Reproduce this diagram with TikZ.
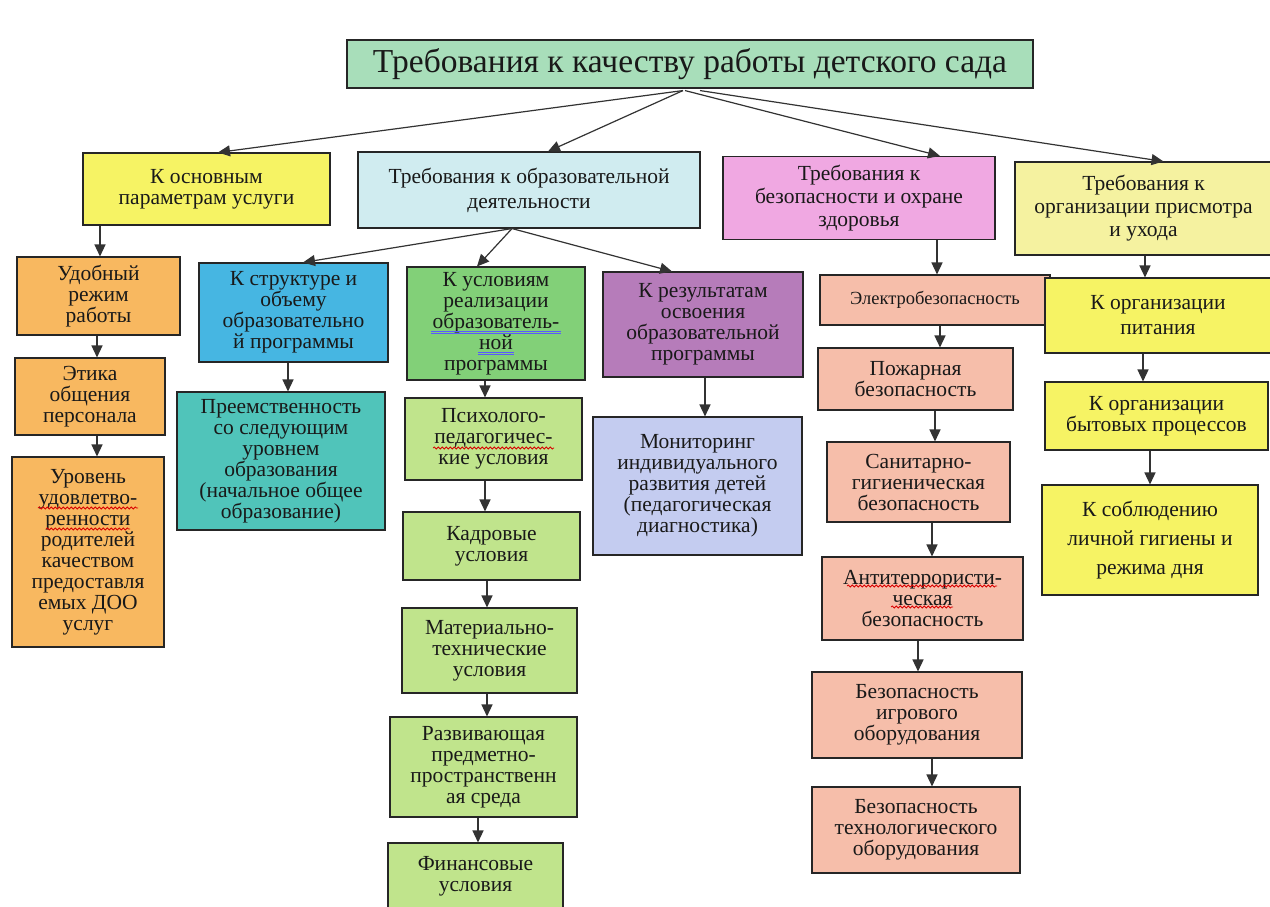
\documentclass[tikz,border=0pt]{standalone}
\usepackage{fontspec}
\setmainfont{Liberation Serif}
\usetikzlibrary{arrows.meta,decorations.pathmorphing}
\definecolor{ctitle}{RGB}{168,222,186}
\definecolor{cyel}{RGB}{246,243,100}
\definecolor{ccyan}{RGB}{208,236,240}
\definecolor{cpink}{RGB}{240,168,226}
\definecolor{cpyel}{RGB}{245,242,160}
\definecolor{corange}{RGB}{248,184,96}
\definecolor{cblue}{RGB}{70,182,226}
\definecolor{cteal}{RGB}{80,196,186}
\definecolor{cgreen}{RGB}{130,208,120}
\definecolor{clgreen}{RGB}{192,228,140}
\definecolor{cpurple}{RGB}{182,124,186}
\definecolor{clav}{RGB}{196,204,240}
\definecolor{csalmon}{RGB}{246,190,170}
\newcommand\varrow[3]{\draw[arr] (#1.south -| #3,0) -- (#2.north -| #3,0);}
\begin{document}
\begin{tikzpicture}[x=1pt,y=-1pt,
  box/.style={draw=black!85, line width=1.1pt, align=center, inner sep=2pt,
     font=\fontsize{21.5}{21}\selectfont, text=black!90},
  arr/.style={draw=black!80, line width=1.4pt, -{Triangle[length=12pt,width=11pt]}},
  spell/.style={draw=red!85!black, line width=0.8pt, decorate, decoration={snake, amplitude=1pt, segment length=4pt}},
  gram/.style={draw=blue!65, line width=0.7pt}]
\useasboundingbox (0,0) rectangle (1270,906);
\fill[white] (0,0) rectangle (1270,906);

\node[box, fill=ctitle, minimum width=686pt, minimum height=48pt, font=\fontsize{33.5}{36}\selectfont] (t) at (690,64) {Требования к качеству работы детского сада};

\node[box, fill=cyel, minimum width=247pt, minimum height=72pt] (a1) at (206.5,189) {К основным\\параметрам услуги};
\node[box, fill=ccyan, minimum width=342pt, minimum height=76pt, font=\fontsize{21.5}{25}\selectfont] (a2) at (529,190) {Требования к образовательной\\деятельности};
\node[box, fill=cpink, minimum width=272pt, minimum height=83pt, font=\fontsize{21.5}{23}\selectfont] (a3) at (859,198) {Требования к\\безопасности и охране\\здоровья};
\node[box, fill=cpyel, minimum width=257pt, minimum height=93pt, font=\fontsize{21.5}{23}\selectfont] (a4) at (1143.5,208.5) {Требования к\\организации присмотра\\и ухода};

\node[box, fill=corange, minimum width=163pt, minimum height=78pt] (b1) at (98.5,296) {Удобный\\режим\\работы};
\node[box, fill=corange, minimum width=150pt, minimum height=77pt] (b2) at (90,396.5) {Этика\\общения\\персонала};
\node[box, fill=corange, minimum width=152pt, minimum height=190pt] (b3) at (88,552) {Уровень\\удовлетво-\\ренности\\родителей\\качеством\\предоставля\\емых ДОО\\услуг};

\node[box, fill=cblue, minimum width=189pt, minimum height=99pt] (c1) at (293.5,312.5) {К структуре и\\объему\\образовательно\\й программы};
\node[box, fill=cteal, minimum width=208pt, minimum height=138pt] (c2) at (281,461) {Преемственность\\со следующим\\уровнем\\образования\\(начальное общее\\образование)};

\node[box, fill=cgreen, minimum width=178pt, minimum height=113pt] (d1) at (496,323.5) {К условиям\\реализации\\образователь-\\ной\\программы};
\node[box, fill=clgreen, minimum width=177pt, minimum height=82pt] (d2) at (493.5,439) {Психолого-\\педагогичес-\\кие условия};
\node[box, fill=clgreen, minimum width=177pt, minimum height=68pt] (d3) at (491.5,546) {Кадровые\\условия};
\node[box, fill=clgreen, minimum width=175pt, minimum height=85pt] (d4) at (489.5,650.5) {Материально-\\технические\\условия};
\node[box, fill=clgreen, minimum width=187pt, minimum height=100pt] (d5) at (483.5,767) {Развивающая\\предметно-\\пространственн\\ая среда};
\node[box, fill=clgreen, minimum width=175pt, minimum height=67pt] (d6) at (475.5,876.5) {Финансовые\\условия};

\node[box, fill=cpurple, minimum width=200pt, minimum height=105pt] (e1) at (703,324.5) {К результатам\\освоения\\образовательной\\программы};
\node[box, fill=clav, minimum width=209pt, minimum height=138pt] (e2) at (697.5,486) {Мониторинг\\индивидуального\\развития детей\\(педагогическая\\диагностика)};

\node[box, fill=csalmon, minimum width=230pt, minimum height=50pt, font=\fontsize{18.5}{20}\selectfont] (f1) at (935,300) {Электробезопасность};
\node[box, fill=csalmon, minimum width=195pt, minimum height=62pt] (f2) at (915.5,379) {Пожарная\\безопасность};
\node[box, fill=csalmon, minimum width=183pt, minimum height=80pt] (f3) at (918.5,482) {Санитарно-\\гигиеническая\\безопасность};
\node[box, fill=csalmon, minimum width=201pt, minimum height=83pt] (f4) at (922.5,598.5) {Антитеррористи-\\ческая\\безопасность};
\node[box, fill=csalmon, minimum width=210pt, minimum height=86pt] (f5) at (917,715) {Безопасность\\игрового\\оборудования};
\node[box, fill=csalmon, minimum width=208pt, minimum height=86pt] (f6) at (916,830) {Безопасность\\технологического\\оборудования};

\node[box, fill=cyel, minimum width=226pt, minimum height=75pt, font=\fontsize{21.5}{25}\selectfont] (g1) at (1158,315.5) {К организации\\питания};
\node[box, fill=cyel, minimum width=223pt, minimum height=68pt] (g2) at (1156.5,416) {К организации\\бытовых процессов};
\node[box, fill=cyel, minimum width=216pt, minimum height=110pt, font=\fontsize{21.5}{29}\selectfont] (g3) at (1150,540) {К соблюдению\\личной гигиены и\\режима дня};

% spell-check marks
\draw[spell] (38,508) -- (138,508);
\draw[spell] (46,529) -- (130,529);
\draw[spell] (433,448) -- (554,448);
\draw[spell] (847,586) -- (997,586);
\draw[spell] (891,607) -- (953,607);
\draw[gram] (431,331) -- (561,331) (431,333.5) -- (561,333.5);
\draw[gram] (478,352) -- (514,352) (478,354.5) -- (514,354.5);

% arrows from title
\draw[arr, line width=1.2pt] ([xshift=-7pt,yshift=-2pt]t.south) -- ([xshift=11.5pt]a1.north);
\draw[arr, line width=1.2pt] ([xshift=-7pt,yshift=-2pt]t.south) -- ([xshift=19pt]a2.north);
\draw[arr, line width=1.2pt] ([xshift=-5pt,yshift=-2pt]t.south) -- ([xshift=81pt]a3.north);
\draw[arr, line width=1.2pt] ([xshift=10pt,yshift=-2pt]t.south) -- ([xshift=20pt]a4.north);

% arrows from a2
\draw[arr, line width=1.2pt] ([xshift=-17pt]a2.south) -- ([xshift=9.5pt]c1.north);
\draw[arr, line width=1.2pt] ([xshift=-17pt]a2.south) -- ([xshift=-19pt]d1.north);
\draw[arr, line width=1.2pt] ([xshift=-17pt]a2.south) -- ([xshift=-31pt]e1.north);

% vertical arrows
\varrow{a1}{b1}{100}
\varrow{b1}{b2}{97}
\varrow{b2}{b3}{97}
\varrow{c1}{c2}{288}
\varrow{d1}{d2}{485}
\varrow{d2}{d3}{485}
\varrow{d3}{d4}{487}
\varrow{d4}{d5}{487}
\varrow{d5}{d6}{478}
\varrow{e1}{e2}{705}
\varrow{a3}{f1}{937}
\varrow{f1}{f2}{940}
\varrow{f2}{f3}{935}
\varrow{f3}{f4}{932}
\varrow{f4}{f5}{918}
\varrow{f5}{f6}{932}
\varrow{a4}{g1}{1145}
\varrow{g1}{g2}{1143}
\varrow{g2}{g3}{1150}
\end{tikzpicture}
\end{document}
